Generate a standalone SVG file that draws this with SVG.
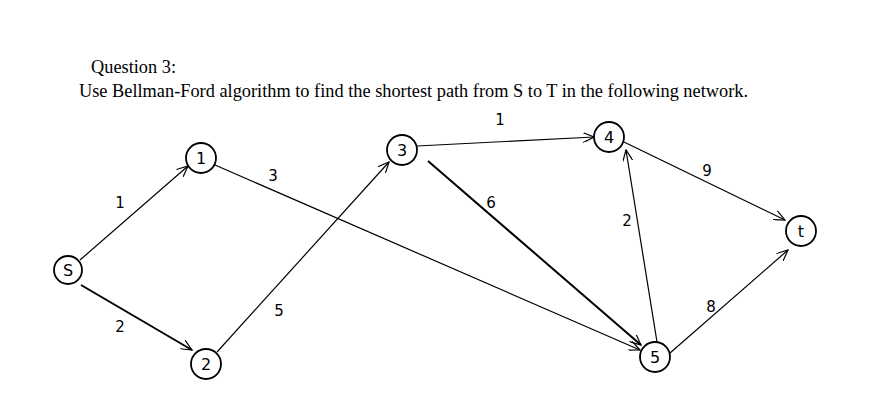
<svg xmlns="http://www.w3.org/2000/svg" width="879" height="401" viewBox="0 0 879 401">
<style>
.q{font-family:"Liberation Serif",serif;font-size:18px;fill:#000}
.n circle{fill:#fff;stroke:#000;stroke-width:1.8}
.n text{font-family:"DejaVu Sans",sans-serif;font-size:16px;text-anchor:middle;dominant-baseline:central}
.e line{stroke:#000;stroke-width:1.2;marker-end:url(#a)}
.e .b{stroke-width:2}
.l{font-family:"DejaVu Sans",sans-serif;font-size:15px;text-anchor:middle}
</style>
<defs><marker id="a" markerWidth="12" markerHeight="10" refX="11" refY="5" orient="auto" markerUnits="userSpaceOnUse"><path d="M0,0 L11,5 L0,10" fill="none" stroke="#000" stroke-width="1.2"/></marker></defs>
<rect width="879" height="401" fill="#fff"/>
<text class="q" x="91" y="73" textLength="85" lengthAdjust="spacingAndGlyphs">Question 3:</text>
<text class="q" x="79" y="97" textLength="669" lengthAdjust="spacingAndGlyphs">Use Bellman-Ford algorithm to find the shortest path from S to T in the following network.</text>
<g id="connectors" class="e">
<line x1="80" y1="260" x2="188" y2="166"/>
<line class="b" x1="81" y1="285" x2="192" y2="350"/>
<line x1="215" y1="165" x2="640" y2="350"/>
<line x1="217" y1="352" x2="389" y2="162"/>
<line x1="417" y1="146" x2="594" y2="137"/>
<line class="b" x1="428" y1="161" x2="641" y2="345"/>
<line x1="657" y1="342" x2="626" y2="150"/>
<line x1="624" y1="142" x2="785" y2="220"/>
<line x1="670" y1="353" x2="788" y2="250"/>
</g>
<g id="labels">
<text class="l" x="120" y="208">1</text>
<text class="l" x="120" y="332">2</text>
<text class="l" x="273" y="181">3</text>
<text class="l" x="279" y="316">5</text>
<text class="l" x="500" y="125">1</text>
<text class="l" x="491" y="208">6</text>
<text class="l" x="627" y="226">2</text>
<text class="l" x="707" y="176">9</text>
<text class="l" x="711" y="312">8</text>
</g>
<g id="S" class="n"><circle cx="68" cy="270" r="14"/><text x="68" y="270">S</text></g>
<g id="n1" class="n"><circle cx="201" cy="158" r="15"/><text x="201" y="158">1</text></g>
<g id="n2" class="n"><circle cx="206" cy="364" r="15"/><text x="206" y="364">2</text></g>
<g id="n3" class="n"><circle cx="402" cy="150" r="15"/><text x="402" y="150">3</text></g>
<g id="n4" class="n"><circle cx="609" cy="137" r="15"/><text x="609" y="137">4</text></g>
<g id="n5" class="n"><circle cx="655" cy="357" r="15"/><text x="655" y="357">5</text></g>
<g id="t" class="n"><circle cx="801" cy="231" r="15"/><text x="801" y="231">t</text></g>
</svg>
